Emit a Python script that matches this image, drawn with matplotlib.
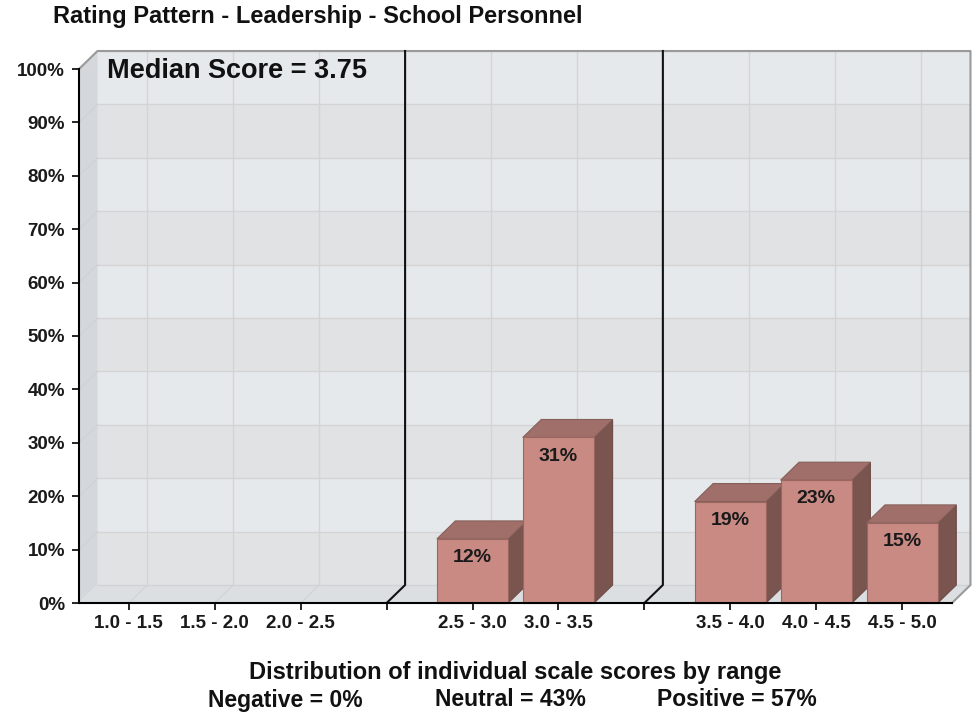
import matplotlib
matplotlib.use('Agg')
import matplotlib.pyplot as plt
from matplotlib.patches import Polygon, Rectangle

plt.rcParams['font.family'] = ['Liberation Sans', 'DejaVu Sans']

# score ranges; empty strings are the gaps between negative / neutral / positive
categories = ['1.0 - 1.5', '1.5 - 2.0', '2.0 - 2.5', '',
              '2.5 - 3.0', '3.0 - 3.5', '',
              '3.5 - 4.0', '4.0 - 4.5', '4.5 - 5.0']
percents = [0, 0, 0, None, 12, 31, None, 19, 23, 15]
separators = [3, 6]
median_score = 3.75
summary = [('Negative', 0), ('Neutral', 43), ('Positive', 57)]

# 3d look: depth offset of the back wall, in data units
DX, DY = 0.215, 3.37
BW = 0.83
x0, x1 = -0.58, 9.58

fig = plt.figure(figsize=(9.72, 7.14), dpi=100)
ax = fig.add_axes([79 / 972, 111 / 714, 873 / 972, 534 / 714])
ax.set_xlim(x0, x1)
ax.set_ylim(0, 100)
ax.patch.set_visible(False)

# back wall with alternating bands
for k in range(10):
    col = '#e6e9ec' if k % 2 else '#e1e2e4'
    ax.add_patch(Rectangle((x0 + DX, k * 10 + DY), x1 - x0, 10, facecolor=col,
                           edgecolor='none', zorder=0, clip_on=False))
# left wall
ax.add_patch(Polygon([(x0, 0), (x0, 100), (x0 + DX, 100 + DY), (x0 + DX, DY)],
                     closed=True, facecolor='#d4d7db', edgecolor='none',
                     zorder=0, clip_on=False))
# floor
ax.add_patch(Polygon([(x0, 0), (x1, 0), (x1 + DX, DY), (x0 + DX, DY)],
                     closed=True, facecolor='#dcdfe2', edgecolor='none',
                     zorder=0, clip_on=False))

# grid lines on walls and floor
for k in range(1, 11):
    y = k * 10
    ax.plot([x0 + DX, x1 + DX], [y + DY, y + DY], color='#d4d4d4', lw=1,
            zorder=0.5, clip_on=False)
    ax.plot([x0, x0 + DX], [y, y + DY], color='#cfd2d6', lw=1,
            zorder=0.5, clip_on=False)
for i in range(len(categories)):
    ax.plot([i + DX, i + DX], [DY, 100 + DY], color='#d4d4d4', lw=1,
            zorder=0.5, clip_on=False)
    ax.plot([i, i + DX], [0, DY], color='#d2d4d8', lw=1,
            zorder=0.5, clip_on=False)
ax.plot([x0 + DX, x1 + DX], [DY, DY], color='#d0d2d6', lw=1, zorder=0.5, clip_on=False)

# outer edge of the box
ax.plot([x0, x0 + DX, x1 + DX, x1 + DX, x1],
        [100, 100 + DY, 100 + DY, DY, 0],
        color='#9a9a9a', lw=1.5, zorder=0.6, clip_on=False)

# group separators
for s in separators:
    ax.plot([s, s + DX, s + DX], [0, DY, 100 + DY], color='#111111', lw=1.5,
            zorder=1, clip_on=False)

# bars
for i, v in enumerate(percents):
    if not v:
        continue
    l, r = i - BW / 2, i + BW / 2
    z = 2 + i * 0.1
    ax.add_patch(Polygon([(r, 0), (r + DX, DY), (r + DX, v + DY), (r, v)],
                         facecolor='#7a544f', edgecolor='#6e4b47', lw=0.8,
                         zorder=z, clip_on=False))
    ax.add_patch(Polygon([(l, v), (l + DX, v + DY), (r + DX, v + DY), (r, v)],
                         facecolor='#a06f69', edgecolor='#85605b', lw=0.8,
                         zorder=z, clip_on=False))
    ax.add_patch(Rectangle((l, 0), BW, v, facecolor='#c88a83',
                           edgecolor='#9a6660', lw=0.8, zorder=z, clip_on=False))
    ax.text(i, v - 3.5, f'{v}%', ha='center', va='center', fontsize=14,
            fontweight='bold', color='#1a1a1a', zorder=z + 0.05)

ax.text(-0.25, 99.6, f'Median Score = {median_score:.2f}', ha='left', va='center',
        fontsize=19.5, fontweight='bold', color='#111111', zorder=3)

# axes
for side in ['top', 'right']:
    ax.spines[side].set_visible(False)
for side in ['left', 'bottom']:
    ax.spines[side].set_color('black')
    ax.spines[side].set_linewidth(1.5)
    ax.spines[side].set_zorder(5)
ax.set_yticks(range(0, 101, 10))
ax.set_yticklabels([f'{t}%' for t in range(0, 101, 10)])
ax.set_xticks(range(len(categories)))
ax.set_xticklabels(categories)
ax.tick_params(axis='both', length=5, width=1.2, color='black', labelsize=13.5)
ax.tick_params(axis='y', pad=5)
ax.tick_params(axis='x', pad=4)
for lab in ax.get_xticklabels() + ax.get_yticklabels():
    lab.set_fontweight('bold')
    lab.set_color('#1a1a1a')

fig.text(53 / 972, 1 - 17 / 714, 'Rating Pattern - Leadership - School Personnel',
         ha='left', va='center', fontsize=17, fontweight='bold', color='#111111')
fig.text(515 / 972, 1 - 673 / 714, 'Distribution of individual scale scores by range',
         ha='center', va='center', fontsize=17, fontweight='bold', color='#111111')
for (name, pct), xpix in zip(summary, [208, 435, 657]):
    fig.text(xpix / 972, 1 - 700 / 714, f'{name} = {pct}%', ha='left', va='center',
             fontsize=16.5, fontweight='bold', color='#111111')

fig.savefig('out.png', dpi=100)
